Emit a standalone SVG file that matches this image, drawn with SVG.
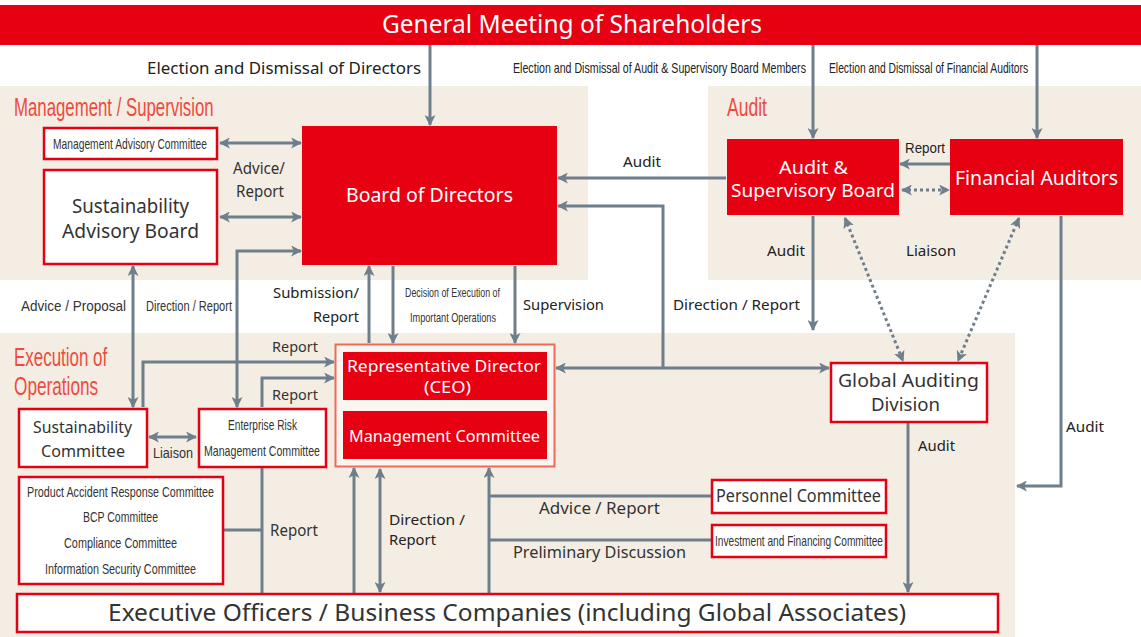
<svg xmlns="http://www.w3.org/2000/svg" width="1141" height="637" viewBox="0 0 1141 637">
<style>
text{font-family:"Noto Sans","Open Sans","Liberation Sans",sans-serif;fill:#333}
.nar{font-family:"Liberation Sans",Arial,sans-serif}
.w{fill:#fff}
.ttl{fill:#ee4b3f;font-family:"Liberation Sans",Arial,sans-serif}
.lbl{fill:#222}
.redbox{fill:#e60012}
.wbox{fill:#fff;stroke:#e60012;stroke-width:2.5}
.panel{fill:#f4ede3}
.c{fill:none;stroke:#6e7f8b;stroke-width:3}
.d{stroke-dasharray:3 3}
.e{marker-end:url(#ah)}
.s{marker-start:url(#ah)}
</style>
<defs>
<marker id="ah" viewBox="0 0 10 10" refX="9" refY="5" markerWidth="11" markerHeight="11" markerUnits="userSpaceOnUse" orient="auto-start-reverse">
<path d="M0,0 L10,5 L0,10 L2.5,5 z" fill="#6e7f8b"/>
</marker>
</defs>
<rect width="1141" height="637" fill="#fff"/>
<!-- panels -->
<rect class="panel" x="0" y="86" width="588" height="194"/>
<rect class="panel" x="708" y="86" width="433" height="194"/>
<rect class="panel" x="0" y="333" width="1015" height="304"/>
<text class="ttl" transform="translate(14,116) scale(0.67,1)" font-size="25" textLength="298" lengthAdjust="spacingAndGlyphs">Management / Supervision</text>
<text class="ttl" transform="translate(727,116) scale(0.7,1)" font-size="25" textLength="57" lengthAdjust="spacingAndGlyphs">Audit</text>
<text class="ttl" transform="translate(14,366) scale(0.68,1)" font-size="25" textLength="137" lengthAdjust="spacingAndGlyphs">Execution of</text>
<text class="ttl" transform="translate(14,395) scale(0.69,1)" font-size="25" textLength="122" lengthAdjust="spacingAndGlyphs">Operations</text>

<!-- connectors -->
<g id="connectors">
<path class="c e" d="M430,45 V125"/>
<path class="c e" d="M813,45 V138"/>
<path class="c e" d="M1037,45 V138"/>
<path class="c s e" d="M220,143 H301"/>
<path class="c s e" d="M220,217 H301"/>
<path class="c s e" d="M237,407 V251 H301"/>
<path class="c s e" d="M133,266 V407"/>
<path class="c e" d="M369,343 V266"/>
<path class="c e" d="M393,266 V343"/>
<path class="c e" d="M515,266 V343"/>
<path class="c e" d="M726,178 H558"/>
<path class="c e" d="M663,368 V206 H558"/>
<path class="c s e" d="M556,368 H829"/>
<path class="c e" d="M950,164 H900"/>
<path class="c d s e" d="M902,190 H949"/>
<path class="c e" d="M813,216 V330"/>
<path class="c d s e" d="M845,218 L903,361"/>
<path class="c d s e" d="M1019,218 L958,361"/>
<path class="c e" d="M1061,216 V486 H1017"/>
<path class="c e" d="M908,423 V592"/>
<path class="c e" d="M143,407 V362 H334"/>
<path class="c e" d="M262,407 V378 H334"/>
<path class="c s e" d="M149,437 H196"/>
<path class="c" d="M262,468 V594"/>
<path class="c" d="M224,530 H262"/>
<path class="c e" d="M354,594 V468"/>
<path class="c s e" d="M380,469 V592"/>
<path class="c e" d="M489,594 V468"/>
<path class="c" d="M489,496 H711"/>
<path class="c" d="M489,540 H711"/>
</g>

<!-- connector labels -->
<g id="labels">
<text class="lbl" x="147" y="74" font-size="16" textLength="274" lengthAdjust="spacingAndGlyphs">Election and Dismissal of Directors</text>
<text class="lbl nar" transform="translate(513,73) scale(0.76,1)" font-size="14" textLength="385.5" lengthAdjust="spacingAndGlyphs">Election and Dismissal of Audit &amp; Supervisory Board Members</text>
<text class="lbl nar" transform="translate(829,73) scale(0.74,1)" font-size="14" textLength="269" lengthAdjust="spacingAndGlyphs">Election and Dismissal of Financial Auditors</text>
<text x="233" y="174" font-size="16" textLength="52" lengthAdjust="spacingAndGlyphs">Advice/</text>
<text x="236" y="197" font-size="16" textLength="48" lengthAdjust="spacingAndGlyphs">Report</text>
<text class="lbl" x="623" y="167" font-size="15" textLength="38" lengthAdjust="spacingAndGlyphs">Audit</text>
<text class="lbl nar" transform="translate(905,153) scale(0.88,1)" font-size="15" textLength="45.5" lengthAdjust="spacingAndGlyphs">Report</text>
<text class="lbl" x="767" y="256" font-size="15" textLength="38" lengthAdjust="spacingAndGlyphs">Audit</text>
<text class="lbl" x="906" y="256" font-size="15" textLength="50" lengthAdjust="spacingAndGlyphs">Liaison</text>
<text class="nar" transform="translate(21,311) scale(0.9,1)" font-size="15" textLength="116.7" lengthAdjust="spacingAndGlyphs">Advice / Proposal</text>
<text class="nar" transform="translate(146,311) scale(0.79,1)" font-size="14" textLength="108.9" lengthAdjust="spacingAndGlyphs">Direction / Report</text>
<text class="lbl" x="273" y="298" font-size="15" textLength="86" lengthAdjust="spacingAndGlyphs">Submission/</text>
<text class="lbl" x="313" y="322" font-size="15" textLength="46" lengthAdjust="spacingAndGlyphs">Report</text>
<text class="nar" transform="translate(405,297) scale(0.74,1)" font-size="12" textLength="128.4" lengthAdjust="spacingAndGlyphs">Decision of Execution of</text>
<text class="nar" transform="translate(410,322) scale(0.76,1)" font-size="12" textLength="113.2" lengthAdjust="spacingAndGlyphs">Important Operations</text>
<text class="lbl" x="523" y="310" font-size="15" textLength="81" lengthAdjust="spacingAndGlyphs">Supervision</text>
<text class="lbl" x="673" y="310" font-size="15" textLength="127" lengthAdjust="spacingAndGlyphs">Direction / Report</text>
<text x="272" y="352" font-size="15" textLength="46" lengthAdjust="spacingAndGlyphs">Report</text>
<text x="272" y="400" font-size="15" textLength="46" lengthAdjust="spacingAndGlyphs">Report</text>
<text class="nar" transform="translate(153,458) scale(0.84,1)" font-size="15" textLength="47.6" lengthAdjust="spacingAndGlyphs">Liaison</text>
<text class="lbl" x="918" y="451" font-size="15" textLength="37" lengthAdjust="spacingAndGlyphs">Audit</text>
<text class="lbl" x="1066" y="432" font-size="15" textLength="38" lengthAdjust="spacingAndGlyphs">Audit</text>
<text x="270" y="536" font-size="16" textLength="48" lengthAdjust="spacingAndGlyphs">Report</text>
<text class="lbl" x="389" y="525" font-size="15" textLength="76" lengthAdjust="spacingAndGlyphs">Direction /</text>
<text class="lbl" x="389" y="545" font-size="15" textLength="47" lengthAdjust="spacingAndGlyphs">Report</text>
<text x="539" y="514" font-size="16" textLength="121" lengthAdjust="spacingAndGlyphs">Advice / Report</text>
<text x="513" y="558" font-size="16" textLength="173" lengthAdjust="spacingAndGlyphs">Preliminary Discussion</text>
</g>

<!-- nodes -->
<g id="gms">
<rect class="redbox" x="0" y="5" width="1141" height="40"/>
<text class="w" x="382" y="33" font-size="25" textLength="380" lengthAdjust="spacingAndGlyphs">General Meeting of Shareholders</text>
</g>
<g id="mac">
<rect class="wbox" x="44" y="128" width="173" height="31"/>
<text class="nar" transform="translate(53,149) scale(0.73,1)" font-size="14" textLength="211" lengthAdjust="spacingAndGlyphs">Management Advisory Committee</text>
</g>
<g id="sab">
<rect class="wbox" x="44" y="170" width="173" height="94"/>
<text x="72" y="213" font-size="19" textLength="117" lengthAdjust="spacingAndGlyphs">Sustainability</text>
<text x="62" y="238" font-size="19" textLength="137" lengthAdjust="spacingAndGlyphs">Advisory Board</text>
</g>
<g id="bod">
<rect class="redbox" x="302" y="126" width="255" height="139"/>
<text class="w" x="346" y="202" font-size="19" textLength="167" lengthAdjust="spacingAndGlyphs">Board of Directors</text>
</g>
<g id="asb">
<rect class="redbox" x="727" y="139" width="172" height="76"/>
<text class="w" x="779" y="174" font-size="18" textLength="69" lengthAdjust="spacingAndGlyphs">Audit &amp;</text>
<text class="w" x="731" y="197" font-size="18" textLength="164" lengthAdjust="spacingAndGlyphs">Supervisory Board</text>
</g>
<g id="fa">
<rect class="redbox" x="950" y="139" width="173" height="76"/>
<text class="w" x="955" y="185" font-size="19" textLength="163" lengthAdjust="spacingAndGlyphs">Financial Auditors</text>
</g>
<g id="gad">
<rect class="wbox" x="831" y="363" width="156" height="59"/>
<text x="838" y="387" font-size="18" textLength="141" lengthAdjust="spacingAndGlyphs">Global Auditing</text>
<text x="871" y="411" font-size="18" textLength="69" lengthAdjust="spacingAndGlyphs">Division</text>
</g>
<g id="ceo-group">
<rect x="335.5" y="344.5" width="219" height="122" fill="#faf5ee" stroke="#ef6a5c" stroke-width="2"/>
<g id="ceo">
<rect class="redbox" x="343" y="352" width="204" height="48"/>
<text class="w" x="347" y="372" font-size="17" textLength="194" lengthAdjust="spacingAndGlyphs">Representative Director</text>
<text class="w" x="424" y="393" font-size="17" textLength="47" lengthAdjust="spacingAndGlyphs">(CEO)</text>
</g>
<g id="mgmt-committee">
<rect class="redbox" x="343" y="411" width="204" height="48"/>
<text class="w" x="349" y="442" font-size="17" textLength="191" lengthAdjust="spacingAndGlyphs">Management Committee</text>
</g>
</g>
<g id="sc">
<rect class="wbox" x="19" y="409" width="128" height="58"/>
<text x="33" y="433" font-size="17" textLength="99" lengthAdjust="spacingAndGlyphs">Sustainability</text>
<text x="41" y="457" font-size="17" textLength="84" lengthAdjust="spacingAndGlyphs">Committee</text>
</g>
<g id="erm">
<rect class="wbox" x="199" y="409" width="127" height="58"/>
<text class="nar" transform="translate(228,430) scale(0.73,1)" font-size="14" textLength="94.5" lengthAdjust="spacingAndGlyphs">Enterprise Risk</text>
<text class="nar" transform="translate(204,456) scale(0.76,1)" font-size="14" textLength="152.6" lengthAdjust="spacingAndGlyphs">Management Committee</text>
</g>
<g id="committees">
<rect class="wbox" x="19" y="477" width="204" height="107"/>
<text class="nar" transform="translate(27,497) scale(0.765,1)" font-size="14" textLength="244.4" lengthAdjust="spacingAndGlyphs">Product Accident Response Committee</text>
<text class="nar" transform="translate(83,522) scale(0.75,1)" font-size="14" textLength="100" lengthAdjust="spacingAndGlyphs">BCP Committee</text>
<text class="nar" transform="translate(64,548) scale(0.78,1)" font-size="14" textLength="144.9" lengthAdjust="spacingAndGlyphs">Compliance Committee</text>
<text class="nar" transform="translate(45,574) scale(0.77,1)" font-size="14" textLength="196.1" lengthAdjust="spacingAndGlyphs">Information Security Committee</text>
</g>
<g id="personnel">
<rect class="wbox" x="712" y="480" width="174" height="33"/>
<text x="716" y="502" font-size="18" textLength="165" lengthAdjust="spacingAndGlyphs">Personnel Committee</text>
</g>
<g id="investment">
<rect class="wbox" x="712" y="525" width="174" height="32"/>
<text class="nar" transform="translate(715,546) scale(0.725,1)" font-size="14" textLength="231.7" lengthAdjust="spacingAndGlyphs">Investment and Financing Committee</text>
</g>
<g id="executives">
<rect class="wbox" x="17" y="594" width="981" height="38"/>
<text x="108" y="621" font-size="24" textLength="798" lengthAdjust="spacingAndGlyphs">Executive Officers / Business Companies (including Global Associates)</text>
</g>
</svg>
